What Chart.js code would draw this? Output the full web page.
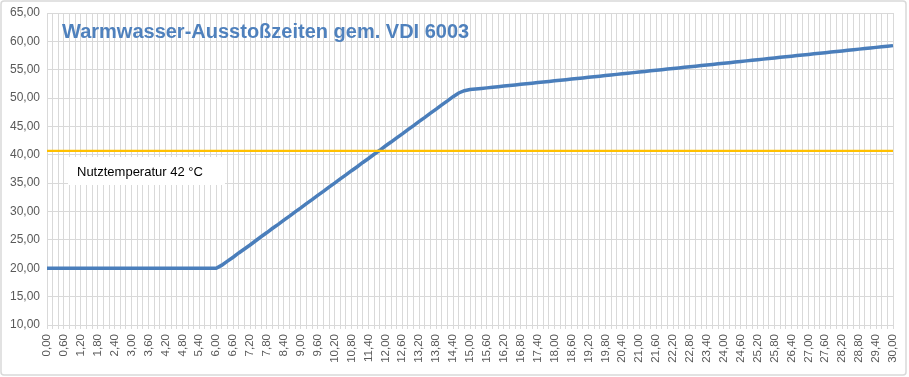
<!DOCTYPE html>
<html><head><meta charset="utf-8">
<script src="https://cdn.jsdelivr.net/npm/chart.js@4/dist/chart.umd.min.js"></script>
<style>html,body{margin:0;padding:0;background:#fff;}canvas{display:block;}</style>
</head><body>
<canvas id="c" width="909" height="377"></canvas>
<script>
// time in seconds (category axis)
const times = [
 0,0.2,0.4,0.6,0.8, 1,1.2,1.4,1.6,1.8, 2,2.2,2.4,2.6,2.8, 3,3.2,3.4,3.6,3.8,
 4,4.2,4.4,4.6,4.8, 5,5.2,5.4,5.6,5.8, 6,6.2,6.4,6.6,6.8, 7,7.2,7.4,7.6,7.8,
 8,8.2,8.4,8.6,8.8, 9,9.2,9.4,9.6,9.8, 10,10.2,10.4,10.6,10.8, 11,11.2,11.4,11.6,11.8,
 12,12.2,12.4,12.6,12.8, 13,13.2,13.4,13.6,13.8, 14,14.2,14.4,14.6,14.8, 15,15.2,15.4,15.6,15.8,
 16,16.2,16.4,16.6,16.8, 17,17.2,17.4,17.6,17.8, 18,18.2,18.4,18.6,18.8, 19,19.2,19.4,19.6,19.8,
 20,20.2,20.4,20.6,20.8, 21,21.2,21.4,21.6,21.8, 22,22.2,22.4,22.6,22.8, 23,23.2,23.4,23.6,23.8,
 24,24.2,24.4,24.6,24.8, 25,25.2,25.4,25.6,25.8, 26,26.2,26.4,26.6,26.8, 27,27.2,27.4,27.6,27.8,
 28,28.2,28.4,28.6,28.8, 29,29.2,29.4,29.6,29.8, 30
];
// water temperature in °C
const temps = [
 20,20,20,20,20, 20,20,20,20,20, 20,20,20,20,20, 20,20,20,20,20,
 20,20,20,20,20, 20,20,20,20,20, 20.00,20.55,21.25,21.95,22.70, 23.40,24.10,24.85,25.60,26.30,
 27.05,27.75,28.50,29.20,29.95, 30.65,31.40,32.10,32.85,33.55, 34.30,35.00,35.75,36.45,37.20, 37.90,38.65,39.35,40.10,40.80,
 41.55,42.25,43.00,43.70,44.45, 45.15,45.90,46.60,47.35,48.05, 48.80,49.50,50.25,50.90,51.30, 51.50,51.60,51.70,51.80,51.91,
 52.01,52.12,52.22,52.32,52.43, 52.53,52.63,52.74,52.84,52.94, 53.05,53.15,53.25,53.36,53.46, 53.56,53.67,53.77,53.87,53.98,
 54.08,54.18,54.29,54.39,54.49, 54.60,54.70,54.80,54.91,55.01, 55.11,55.22,55.32,55.42,55.53, 55.63,55.73,55.84,55.94,56.04,
 56.15,56.25,56.35,56.46,56.56, 56.66,56.77,56.87,56.97,57.08, 57.18,57.28,57.39,57.49,57.59, 57.70,57.80,57.90,58.01,58.11,
 58.21,58.32,58.42,58.52,58.63, 58.73,58.83,58.94,59.04,59.14, 59.25
];
const nutzLine = 40.7;          // level of the orange reference line
const nutzLabel = "Nutztemperatur 42 °C";
const titleText = "Warmwasser-Ausstoßzeiten gem. VDI 6003";
const yTicks = {min: 10, max: 65, step: 5};
const labelEvery = 3;

const fmt = v => Number(v).toFixed(2).replace('.', ',');

const framePlugin = {
  id: 'frame',
  beforeDraw(chart) {
    const ctx = chart.ctx;
    ctx.save();
    ctx.fillStyle = '#fff';
    ctx.fillRect(0, 0, chart.width, chart.height);
    ctx.restore();
  },
  afterDatasetsDraw(chart) {
    const ctx = chart.ctx, a = chart.chartArea, y = chart.scales.y;
    ctx.save();
    // reference line
    const py = y.getPixelForValue(nutzLine);
    ctx.strokeStyle = '#ffc000';
    ctx.lineWidth = 2.2;
    ctx.beginPath(); ctx.moveTo(a.left, py); ctx.lineTo(a.right, py); ctx.stroke();
    // label box
    ctx.fillStyle = '#fff';
    ctx.fillRect(68, 157, 157, 28);
    ctx.fillStyle = '#000';
    ctx.font = '13px "Liberation Sans", Arial, sans-serif';
    ctx.textBaseline = 'middle';
    ctx.fillText(nutzLabel, 77, 172, 129);
    // title
    ctx.fillStyle = '#4f81bd';
    ctx.font = 'bold 20px "Liberation Sans", Arial, sans-serif';
    ctx.textBaseline = 'alphabetic';
    ctx.fillText(titleText, 62, 38, 425);
    // outer frame
    ctx.strokeStyle = '#d9d9d9';
    ctx.lineWidth = 1.5;
    ctx.beginPath();
    if (ctx.roundRect) ctx.roundRect(1, 1, 905, 374, 3); else ctx.rect(1, 1, 905, 374);
    ctx.stroke();
    ctx.restore();
  }
};

new Chart(document.getElementById('c'), {
  type: 'line',
  data: {
    labels: times.map(fmt),
    datasets: [{
      data: temps,
      borderColor: '#4a7ebb',
      borderWidth: 3.5,
      pointRadius: 0,
      tension: 0,
      fill: false
    }]
  },
  options: {
    responsive: false,
    animation: false,
    layout: {padding: {left: 0, top: 13, right: 16, bottom: 0}},
    plugins: {legend: {display: false}, tooltip: {enabled: false}, title: {display: false}},
    scales: {
      x: {
        offset: false,
        afterFit(s) { s.height = 52; s.paddingLeft = 0; s.paddingRight = 0; },
        grid: {color: '#d9d9d9', lineWidth: 1, drawTicks: true, tickLength: 4, tickColor: '#d9d9d9'},
        border: {display: true, color: '#d9d9d9'},
        ticks: {
          autoSkip: false, minRotation: 90, maxRotation: 90, padding: 5,
          color: '#595959', font: {size: 11.5, family: '"Liberation Sans", Arial, sans-serif'},
          callback(v, i) { return i % labelEvery === 0 ? this.getLabelForValue(v) : ''; }
        }
      },
      y: {
        min: yTicks.min, max: yTicks.max,
        afterFit(s) { s.width = 47; s.paddingTop = 0; s.paddingBottom = 0; },
        grid: {color: '#d9d9d9', lineWidth: 1, drawTicks: false},
        border: {display: false},
        ticks: {
          stepSize: yTicks.step, padding: 7,
          color: '#595959', font: {size: 12, family: '"Liberation Sans", Arial, sans-serif'},
          callback: v => fmt(v)
        }
      }
    }
  },
  plugins: [framePlugin]
});
</script>
</body></html>
